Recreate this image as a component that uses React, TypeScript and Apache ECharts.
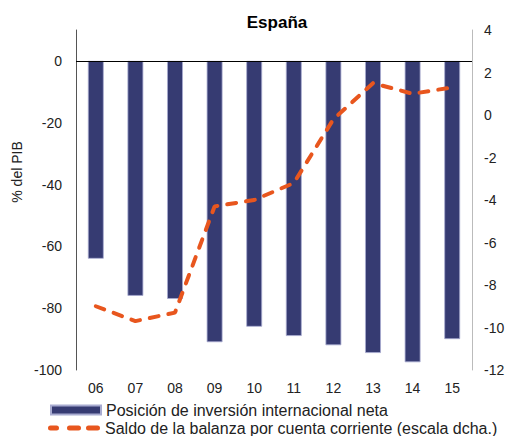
import React, { useEffect, useRef } from "react";
import * as echarts from "echarts";

const categories = ["06", "07", "08", "09", "10", "11", "12", "13", "14", "15"];
const posicionInversion = [-64, -76, -77, -91, -86, -89, -92, -94.5, -97.5, -90];
const saldoBalanza = [-9.0, -9.7, -9.3, -4.3, -4.0, -3.2, -0.2, 1.5, 1.0, 1.3];
const barName = "Posición de inversión internacional neta";
const lineName = "Saldo de la balanza por cuenta corriente (escala dcha.)";

export default function App() {
  const ref = useRef<HTMLDivElement>(null);
  useEffect(() => {
    document.body.style.margin = "0";
    const chart = echarts.init(ref.current!, null, { renderer: "svg" });
    const font = "'Liberation Sans', Arial, sans-serif";
    const legendText = { fontSize: 16, color: "#222", fontFamily: font, lineHeight: 18 };
    chart.setOption({
      animation: false,
      textStyle: { fontFamily: font },
      title: {
        text: "España",
        left: 272,
        textAlign: "center",
        top: 9,
        textStyle: { fontSize: 17, fontWeight: "bold", color: "#000", fontFamily: font },
      },
      grid: { left: 76, right: 38, top: 30, bottom: 66, containLabel: false },
      legend: [
        {
          left: 50,
          top: 401,
          itemWidth: 50,
          itemHeight: 9,
          itemGap: 0,
          padding: 0,
          textStyle: legendText,
          data: [{ name: barName, icon: "rect" }],
        },
        {
          left: 48,
          top: 419,
          itemWidth: 52,
          itemHeight: 5,
          itemGap: 0,
          padding: 0,
          textStyle: legendText,
          data: [
            {
              name: lineName,
              icon:
                "path://M2.5,0h6a2.5,2.5 0 0 1 0,5h-6a2.5,2.5 0 0 1 0,-5z M21.5,0h9a2.5,2.5 0 0 1 0,5h-9a2.5,2.5 0 0 1 0,-5z M40.5,0h9a2.5,2.5 0 0 1 0,5h-9a2.5,2.5 0 0 1 0,-5z",
            },
          ],
        },
      ],
      graphic: [
        {
          type: "text",
          x: 17,
          y: 172,
          rotation: Math.PI / 2,
          style: {
            text: "% del PIB",
            fontSize: 14,
            fill: "#222",
            fontFamily: font,
            textAlign: "center",
            textVerticalAlign: "middle",
          },
        },
      ],
      xAxis: {
        type: "category",
        data: categories,
        axisLine: { show: false },
        axisTick: { show: false },
        axisLabel: { fontSize: 14, color: "#222", margin: 11, fontFamily: font },
      },
      yAxis: [
        {
          type: "value",
          min: -100,
          max: 10,
          interval: 20,
          splitLine: { show: false },
          axisTick: { show: false },
          axisLine: { show: true, lineStyle: { color: "#555", width: 1 } },
          axisLabel: {
            fontSize: 14,
            color: "#222",
            margin: 14,
            fontFamily: font,
            formatter: (v: number) => (v > 0 ? "" : String(v)),
          },
        },
        {
          type: "value",
          min: -12,
          max: 4,
          interval: 2,
          position: "right",
          splitLine: { show: false },
          axisTick: { show: false },
          axisLine: { show: true, lineStyle: { color: "#bbb", width: 1 } },
          axisLabel: { fontSize: 14, color: "#222", margin: 12, fontFamily: font },
        },
      ],
      series: [
        {
          name: barName,
          type: "bar",
          data: posicionInversion,
          barWidth: "40%",
          itemStyle: { color: "#363B72", borderColor: "#A8ABD0", borderWidth: 0.8 },
          markLine: {
            silent: true,
            symbol: "none",
            label: { show: false },
            lineStyle: { color: "#000", width: 1, type: "solid" },
            data: [{ yAxis: 0 }],
          },
        },
        {
          name: lineName,
          type: "line",
          yAxisIndex: 1,
          data: saldoBalanza,
          symbol: "none",
          showSymbol: false,
          lineStyle: { color: "#E8561E", width: 4, type: [9, 10], cap: "round" },
          itemStyle: { color: "#E8561E" },
        },
      ],
    });
    return () => chart.dispose();
  }, []);
  return <div ref={ref} style={{ width: 510, height: 436 }} />;
}
